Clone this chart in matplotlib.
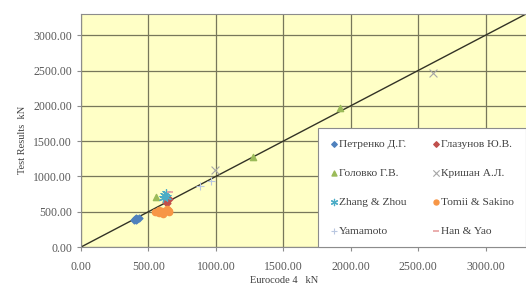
import matplotlib
matplotlib.use('Agg')
import matplotlib.pyplot as plt
from matplotlib.ticker import MultipleLocator, FormatStrFormatter

plt.rcParams['font.family'] = ['Liberation Serif', 'DejaVu Serif']

# data (Eurocode 4 vs test results, kN)
petrenko_x = [392, 402, 410, 418, 428, 405]
petrenko_y = [388, 398, 405, 400, 410, 382]
glazunov_x = [628, 640, 650]
glazunov_y = [640, 618, 675]
golovko_x = [556, 1272, 1920]
golovko_y = [712, 1282, 1972]
krishan_x = [990, 2610]
krishan_y = [1090, 2462]
zhang_x = [608, 618, 628, 640]
zhang_y = [690, 735, 760, 705]
tomii_x = [548, 565, 582, 598, 612, 628, 642, 655, 575, 605, 635, 650]
tomii_y = [492, 500, 482, 508, 495, 505, 520, 490, 528, 472, 540, 510]
yamamoto_x = [880, 965]
yamamoto_y = [860, 940]
han_x = [662]
han_y = [780]

ax_max = 3300

fig = plt.figure(figsize=(5.26, 2.92), dpi=100)
ax = fig.add_axes([0.154, 0.154, 0.846, 0.798])
ax.set_facecolor('#FFFFC6')

ax.plot([0, ax_max], [0, ax_max], color='#333326', lw=1.0, zorder=2)

ms = 4
h1 = ax.scatter(petrenko_x, petrenko_y, marker='D', s=ms*3, color='#4F81BD', label='Петренко Д.Г.', zorder=3)
h2 = ax.scatter(glazunov_x, glazunov_y, marker='D', s=ms*3, color='#C0504D', label='Глазунов Ю.В.', zorder=3)
h3 = ax.scatter(golovko_x, golovko_y, marker='^', s=ms*5, color='#9BBB59', label='Головко Г.В.', zorder=3)
h4 = ax.scatter(krishan_x, krishan_y, marker='x', s=ms*8, color='#A6A6A6', linewidths=0.8, label='Кришан А.Л.', zorder=3)
h5 = ax.scatter(zhang_x, zhang_y, marker=(6, 2, 0), s=ms*8, color='#4BACC6', linewidths=0.9, label='Zhang & Zhou', zorder=3)
h6 = ax.scatter(tomii_x, tomii_y, marker='o', s=ms*5, color='#F79646', label='Tomii & Sakino', zorder=3)
h7 = ax.scatter(yamamoto_x, yamamoto_y, marker='+', s=ms*8, color='#B9C7E0', linewidths=0.8, label='Yamamoto', zorder=3)
h8 = ax.scatter(han_x, han_y, marker='_', s=ms*6, color='#E6A0A0', linewidths=1.2, label='Han & Yao', zorder=3)

ax.set_xlim(0, ax_max)
ax.set_ylim(0, ax_max)
ax.xaxis.set_major_locator(MultipleLocator(500))
ax.yaxis.set_major_locator(MultipleLocator(500))
ax.xaxis.set_major_formatter(FormatStrFormatter('%.2f'))
ax.yaxis.set_major_formatter(FormatStrFormatter('%.2f'))
ax.grid(True, color='#77775A', lw=0.9, zorder=1)
ax.set_axisbelow(True)

for side in ['left', 'bottom', 'top']:
    ax.spines[side].set_color('#8C8C8C')
ax.spines['right'].set_visible(False)
ax.tick_params(direction='out', length=3, color='#8C8C8C', labelsize=8.5, labelcolor='#595959')
ax.tick_params(axis='x', pad=7)

fig.text(0.54, 0.03, 'Eurocode 4   kN', fontsize=7.5, color='#404040', ha='center')
fig.text(0.035, 0.52, 'Test Results  kN', fontsize=7.5, color='#404040', rotation=90, va='center')

# row-wise order like the original legend
handles = [h1, h3, h5, h7, h2, h4, h6, h8]
leg = ax.legend(handles=handles, ncol=2, loc='lower right', bbox_to_anchor=(1.012, -0.025),
                fontsize=8.2, frameon=True, fancybox=False, edgecolor='#8C8C8C', framealpha=1,
                handletextpad=0.05, columnspacing=2.2, labelspacing=1.65,
                borderpad=1.0, handlelength=0.8, markerscale=0.8)
leg.get_frame().set_linewidth(0.8)
for t in leg.get_texts():
    t.set_color('#404040')

fig.savefig('out.png', dpi=100)
